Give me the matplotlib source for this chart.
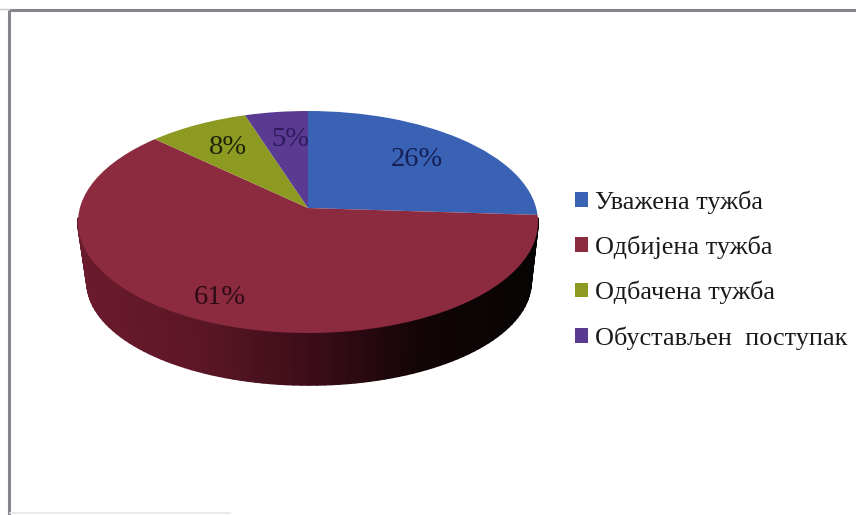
import numpy as np
import matplotlib
matplotlib.use("Agg")
import matplotlib.pyplot as plt
from matplotlib.collections import PolyCollection
from matplotlib.colors import LinearSegmentedColormap
from matplotlib.patches import Patch
from matplotlib.transforms import Transform

categories = ["Уважена тужба", "Одбијена тужба", "Одбачена тужба", "Обустављен  поступак"]
values = [26, 61, 8, 5]
value_labels = ["26%", "61%", "8%", "5%"]
colors = ["#3a62b4", "#8c2a40", "#8c9a22", "#5b3a92"]
label_colors = ["#141f55", "#2c0a14", "#1c2208", "#2c1c5c"]
label_pos = [(417, 159), (220, 297), (228, 147), (290, 140)]

CX, CY, RX, RY = 308, 222, 230, 111
APEX = 14 / 111


class PerspectiveDisc(Transform):
    """Maps the unit pie disc on to the tilted ellipse seen on the page."""
    input_dims = 2
    output_dims = 2
    is_separable = False
    has_inverse = False

    def transform_non_affine(self, values):
        xy = np.asarray(values, dtype=float)
        x, y = xy[:, 0], xy[:, 1]
        d = 1 + APEX * y
        u = x * np.sqrt(1 - APEX ** 2) / d
        v = (y + APEX) / d
        return np.column_stack([CX + RX * u, CY - RY * v])


plt.rcParams["font.family"] = ["Liberation Serif", "DejaVu Serif"]
fig = plt.figure(figsize=(8.56, 5.15), dpi=100, facecolor="white")
ax = fig.add_axes([0, 0, 1, 1])

wedges, _ = ax.pie(values, colors=colors, startangle=90, counterclock=False,
                   wedgeprops={"linewidth": 0})
ax.set_aspect("auto")
ax.set_xlim(0, 856)
ax.set_ylim(515, 0)
ax.set_frame_on(False)

# Side wall of the disc
theta = np.radians(np.linspace(178, 362, 93))
top_x, top_y = CX + RX * np.cos(theta), CY - RY * np.sin(theta)
bot_x, bot_y = 309 + 222 * np.cos(theta), 282 - 103 * np.sin(theta)
quads = [[(top_x[i], top_y[i]), (top_x[i + 1], top_y[i + 1]),
          (bot_x[i + 1], bot_y[i + 1]), (bot_x[i], bot_y[i])]
         for i in range(len(theta) - 1)]
wall_cmap = LinearSegmentedColormap.from_list(
    "wall", ["#6a1b2e", "#5c1626", "#3c0d18", "#120506", "#070404"])
shade = np.clip((top_x[:-1] - 78) / 460, 0, 1)
wall = PolyCollection(quads, array=shade, cmap=wall_cmap, edgecolors="face",
                      linewidths=1.2, zorder=0.5)
ax.add_collection(wall)

persp = PerspectiveDisc()
for w in wedges:
    w.set_transform(persp + ax.transData)
    w.set_zorder(1)

for text, pos, col in zip(value_labels, label_pos, label_colors):
    ax.text(pos[0], pos[1], text, ha="center", va="center", fontsize=20.5,
            color=col, zorder=3)

handles = [Patch(facecolor=c, edgecolor="none") for c in colors]
ax.legend(handles, categories, loc="center left", bbox_to_anchor=(0.6717, 0.4757),
          frameon=False, fontsize=18.9, labelspacing=0.83, handlelength=0.49,
          handleheight=0.49, handletextpad=0.27, labelcolor="#1a1a1a",
          borderpad=0, borderaxespad=0)

# Scanned frame
ax.plot([9, 856], [10, 10], color="#85858c", lw=2.2, zorder=2, solid_capstyle="butt")
ax.plot([9, 9], [10, 515], color="#85858c", lw=2.2, zorder=2, solid_capstyle="butt")
ax.plot([0, 9], [9, 9], color="#c8c8c8", lw=1, zorder=2)
ax.plot([10, 230], [513, 513], color="#e6e6e6", lw=1.2, zorder=2)

fig.savefig("out.png", dpi=100, facecolor="white")
